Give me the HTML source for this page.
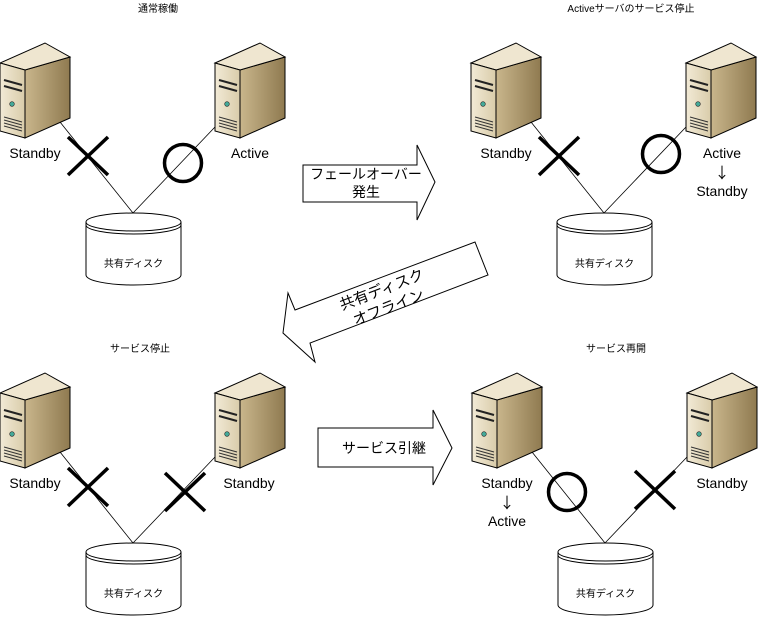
<!DOCTYPE html>
<html><head><meta charset="utf-8"><style>
html,body{margin:0;padding:0;background:#fff}
svg{display:block}
text{font-family:"Liberation Sans","Noto Sans CJK JP",sans-serif;fill:#000}
.ar{font-family:"Noto Sans CJK JP",sans-serif}
</style></head><body>
<svg width="758" height="617" viewBox="0 0 758 617" xmlns="http://www.w3.org/2000/svg">
<defs>
<linearGradient id="gs" x1="0" y1="0" x2="1" y2="0"><stop offset="0" stop-color="#c9b68c"/><stop offset="1" stop-color="#8f7a50"/></linearGradient>
<linearGradient id="gf" x1="0" y1="0" x2="1" y2="0"><stop offset="0" stop-color="#f2ead6"/><stop offset="1" stop-color="#d9ccaa"/></linearGradient>
<g id="srv">
<polygon points="25,70 70,57 70,118 25,138" fill="url(#gs)" stroke="#000" stroke-width="1"/>
<polygon points="0,63 45,43 70,57 25,70" fill="#efe6d0" stroke="#000" stroke-width="1"/>
<polygon points="0,63 25,70 25,138 0,131" fill="url(#gf)" stroke="#000" stroke-width="1"/>
<line x1="4" y1="80" x2="22" y2="85" stroke="#222" stroke-width="2"/>
<line x1="4" y1="86" x2="22" y2="91" stroke="#222" stroke-width="2"/>
<circle cx="12" cy="104" r="2.3" fill="#4a9" stroke="#222" stroke-width="0.6"/>
<line x1="4" y1="117" x2="22" y2="122" stroke="#333" stroke-width="1"/>
<line x1="4" y1="120" x2="22" y2="125" stroke="#333" stroke-width="1"/>
<line x1="4" y1="123" x2="22" y2="128" stroke="#333" stroke-width="1"/>
<line x1="4" y1="126" x2="22" y2="131" stroke="#333" stroke-width="1"/>
</g>
<g id="disk">
<path d="M86,222 L86,275 A47.5,10 0 0 0 181,275 L181,222" fill="#fff" stroke="#000"/>
<ellipse cx="133.5" cy="222" rx="47.5" ry="9" fill="#fff" stroke="#000"/>
<path d="M86,225 A47.5,9 0 0 0 181,225" fill="none" stroke="#000"/>
<text x="133.5" y="267" font-size="10" text-anchor="middle">共有ディスク</text>
</g>
<g id="xm"><line x1="-20" y1="-19" x2="20" y2="19" stroke="#000" stroke-width="3.5"/><line x1="-20" y1="19" x2="20" y2="-19" stroke="#000" stroke-width="3.5"/></g>
<g id="om"><circle r="18.5" fill="none" stroke="#000" stroke-width="3.5"/></g>
</defs>

<g>
<text x="158" y="12" font-size="10" text-anchor="middle">通常稼働</text>
<line x1="60" y1="122" x2="133" y2="213" stroke="#000" stroke-width="0.8"/>
<line x1="215" y1="127" x2="133" y2="213" stroke="#000" stroke-width="0.8"/>
<use href="#srv"/><use href="#srv" x="215"/>
<use href="#disk"/>
<use href="#xm" x="88" y="156"/>
<use href="#om" x="183" y="163"/>
<text x="35" y="158" font-size="14" text-anchor="middle">Standby</text>
<text x="250" y="158" font-size="14" text-anchor="middle">Active</text>
</g>

<g transform="translate(471,0)">
<text x="160" y="12" font-size="10" text-anchor="middle">Activeサーバのサービス停止</text>
<line x1="60" y1="122" x2="133" y2="213" stroke="#000" stroke-width="0.8"/>
<line x1="215" y1="127" x2="133" y2="213" stroke="#000" stroke-width="0.8"/>
<use href="#srv"/><use href="#srv" x="215"/>
<use href="#disk"/>
<use href="#xm" x="88" y="156"/>
<use href="#om" x="190" y="154"/>
<text x="35" y="158" font-size="14" text-anchor="middle">Standby</text>
<text x="251" y="158" font-size="14" text-anchor="middle">Active</text>
<text class="ar" x="251" y="178" font-size="15" text-anchor="middle">↓</text>
<text x="251" y="196" font-size="14" text-anchor="middle">Standby</text>
</g>

<g transform="translate(0,330)">
<text x="140" y="22" font-size="10" text-anchor="middle">サービス停止</text>
<line x1="60" y1="122" x2="133" y2="213" stroke="#000" stroke-width="0.8"/>
<line x1="215" y1="127" x2="133" y2="213" stroke="#000" stroke-width="0.8"/>
<use href="#srv"/><use href="#srv" x="215"/>
<use href="#disk"/>
<use href="#xm" x="88" y="157"/>
<use href="#xm" x="185" y="162"/>
<text x="35" y="158" font-size="14" text-anchor="middle">Standby</text>
<text x="249" y="158" font-size="14" text-anchor="middle">Standby</text>
</g>

<g transform="translate(472,330)">
<text x="144" y="22" font-size="10" text-anchor="middle">サービス再開</text>
<line x1="60" y1="122" x2="133" y2="213" stroke="#000" stroke-width="0.8"/>
<line x1="215" y1="127" x2="133" y2="213" stroke="#000" stroke-width="0.8"/>
<use href="#srv"/><use href="#srv" x="215"/>
<use href="#disk"/>
<use href="#om" x="95" y="162"/>
<use href="#xm" x="183" y="160"/>
<text x="35" y="158" font-size="14" text-anchor="middle">Standby</text>
<text class="ar" x="35" y="178" font-size="15" text-anchor="middle">↓</text>
<text x="35" y="196" font-size="14" text-anchor="middle">Active</text>
<text x="250" y="158" font-size="14" text-anchor="middle">Standby</text>
</g>

<polygon points="303,165 417,165 417,145 435,182 417,220 417,202 303,202" fill="#fff" stroke="#000"/>
<text x="366" y="179" font-size="14" text-anchor="middle">フェールオーバー</text>
<text x="366" y="197" font-size="14" text-anchor="middle">発生</text>

<polygon points="295,310 475,242 488,275 310,343 315,362 283,333 288,293" fill="#fff" stroke="#000"/>
<g transform="translate(385,298) rotate(-21)">
<text x="0" y="-4" font-size="15" text-anchor="middle">共有ディスク</text>
<text x="0" y="15" font-size="15" text-anchor="middle">オフライン</text>
</g>

<polygon points="318,428 433,428 433,410 452,448 433,485 433,467 318,467" fill="#fff" stroke="#000"/>
<text x="384" y="453" font-size="14" text-anchor="middle">サービス引継</text>
</svg>
</body></html>
